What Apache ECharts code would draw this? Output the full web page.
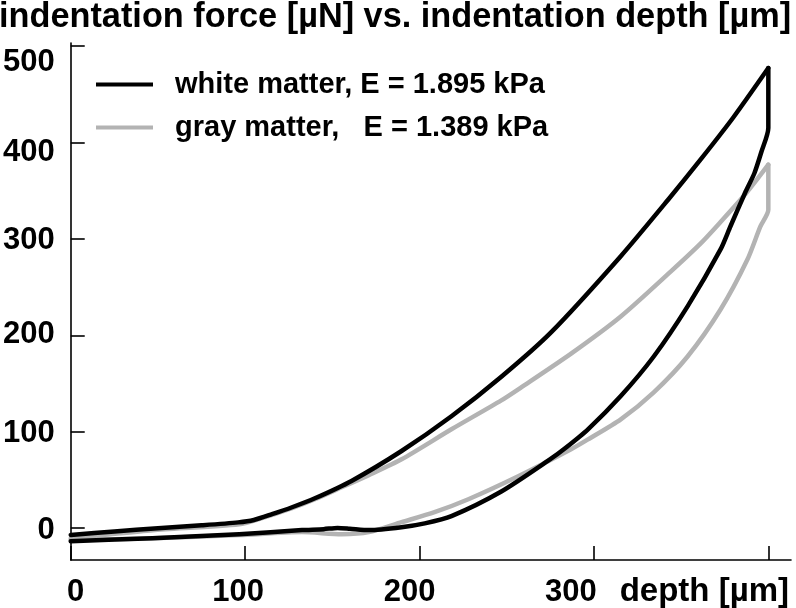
<!DOCTYPE html>
<html><head><meta charset="utf-8">
<script src="https://cdn.jsdelivr.net/npm/echarts@6/dist/echarts.min.js"></script>
<style>html,body{margin:0;padding:0;background:#fff}#c{width:796px;height:608px}</style>
</head><body><div id="c"></div>
<script>
// ---- data ----
const titleText = 'indentation force [µN] vs. indentation depth [µm]';
const xAxisName = 'depth [µm]';
const whiteName = 'white matter, E = 1.895 kPa';
const grayName = 'gray matter,   E = 1.389 kPa';
const xTickValues = [0, 100, 200, 300, 400];
const xLabelValues = [0, 100, 200, 300];
const yTickValues = [0, 100, 200, 300, 400, 500];
const yLabelValues = [0, 100, 200, 300, 400, 500];

// [depth µm, force µN]
const whiteLoading = [[0,-7],[25,-3.5],[50,0],[75,3],[96,6],[105,8.5],[115.4,14.5],[126.9,21.7],[140,31],[161,49],[189.7,80],[218.3,116],[246.9,157],[275.4,203],[315.4,282],[342.3,340],[361.1,382],[380,426],[400,477]];
const whiteUnloading = [[400,477],[400,415],[396,390],[392,368],[387,349],[378.3,313],[372.6,289],[353.7,230],[334.3,178],[315.4,137],[296.6,102.5],[282.9,82],[275.4,72],[246.9,38],[218.3,12.5],[203,5],[189.7,1],[171,-2],[160,-0.5],[153,0.3],[145,-1],[132.6,-2],[96.6,-6.2],[46.9,-10.4],[0,-13.5]];
const grayLoading = [[0,-10.4],[18.3,-7.2],[46.9,-2.1],[96.6,4.1],[109.7,10.4],[126.9,20.7],[140,30],[155.4,42.4],[170.9,55],[189.7,71.4],[218.3,102.5],[246.9,132.5],[258.3,146],[286.9,181],[315.4,219.5],[344,266],[361.1,295],[372.6,317.4],[386.9,346.4],[400,376.8]];
const grayUnloading = [[400,376.8],[400,330],[395.4,312.6],[388,278.5],[372.6,226.7],[353.7,178],[334.3,140.8],[315.4,112.8],[296.6,92],[286.9,81.8],[256.6,53.8],[228,30],[208.6,16.6],[189.7,6.2],[170.9,-4.1],[155.4,-6.2],[132.6,-4.1],[96.6,-7.2],[46.9,-10.4],[0,-12.4]];

// ---- chart ----
const FONT = '"Liberation Sans", Arial, Helvetica, sans-serif';
const chart = echarts.init(document.getElementById('c'), null, {renderer: 'canvas'});

// small per-label nudges (px) to match the reference's hand-placed labels
const xLabelShift = {0: 5, 100: -7, 200: -10, 300: -23};
const yLabelShift = {0: 2, 100: 2, 200: -1, 300: 2, 400: 10, 500: 17};
const xRich = {}, yRich = {};
xLabelValues.forEach(v => {
  const s = xLabelShift[v] || 0;
  xRich['l' + v] = {fontSize: 31, fontWeight: 'bold', fontFamily: FONT, color: '#000',
    padding: s >= 0 ? [0, 0, 0, 2 * s] : [0, -2 * s, 0, 0]};
});
yLabelValues.forEach(v => {
  const s = yLabelShift[v] || 0;
  yRich['l' + v] = {fontSize: 31, fontWeight: 'bold', fontFamily: FONT, color: '#000',
    padding: s >= 0 ? [2 * s, 0, 0, 0] : [0, 0, -2 * s, 0]};
});

const lineCommon = {type: 'line', symbol: 'none', smooth: 0.25, animation: false, silent: true};
const grayColor = '#b3b3b3';
const LW = 4.5;

chart.setOption({
  animation: false,
  backgroundColor: '#fff',
  title: {
    text: titleText, left: -1, top: 1, padding: 0,
    textStyle: {fontSize: 34.3, fontWeight: 'bold', color: '#000', fontFamily: FONT}
  },
  legend: {
    data: [whiteName, grayName],
    orient: 'vertical', left: 96, top: 70, padding: 0,
    itemWidth: 57, itemHeight: 4, itemGap: 14, icon: 'rect',
    textStyle: {fontSize: 29, fontWeight: 'bold', color: '#000', fontFamily: FONT, padding: [0, 0, 0, 17]}
  },
  grid: {left: 68, right: 5, top: 43, bottom: 47, containLabel: false},
  xAxis: {
    type: 'value', min: 0, max: 413,
    name: xAxisName, nameLocation: 'end', nameGap: -2,
    nameTextStyle: {fontSize: 33, fontWeight: 'bold', color: '#000', fontFamily: FONT,
      align: 'right', verticalAlign: 'top', padding: [15, 0, 0, 0]},
    axisLine: {show: true, onZero: false, lineStyle: {color: '#000', width: 1.6}},
    axisTick: {show: true, inside: true, length: 14, customValues: xTickValues, lineStyle: {color: '#000', width: 1.6}},
    axisLabel: {show: true, margin: 17, customValues: xLabelValues,
      formatter: v => '{l' + v + '|' + v + '}', rich: xRich},
    splitLine: {show: false}
  },
  yAxis: {
    type: 'value', min: -33, max: 503,
    axisLine: {show: true, onZero: false, lineStyle: {color: '#000', width: 1.6}},
    axisTick: {show: true, inside: true, length: 14, customValues: yTickValues, lineStyle: {color: '#000', width: 1.6}},
    axisLabel: {show: true, margin: 16, customValues: yLabelValues,
      formatter: v => '{l' + v + '|' + v + '}', rich: yRich},
    splitLine: {show: false}
  },
  series: [
    Object.assign({}, lineCommon, {name: grayName, data: grayLoading, lineStyle: {color: grayColor, width: LW, cap: 'round', join: 'round'}, itemStyle: {color: grayColor}}),
    Object.assign({}, lineCommon, {name: grayName, data: grayUnloading, lineStyle: {color: grayColor, width: LW, cap: 'round', join: 'round'}, itemStyle: {color: grayColor}}),
    Object.assign({}, lineCommon, {name: whiteName, data: whiteLoading, lineStyle: {color: '#000', width: LW, cap: 'round', join: 'round'}, itemStyle: {color: '#000'}}),
    Object.assign({}, lineCommon, {name: whiteName, data: whiteUnloading, lineStyle: {color: '#000', width: LW, cap: 'round', join: 'round'}, itemStyle: {color: '#000'}})
  ]
});
</script></body></html>
